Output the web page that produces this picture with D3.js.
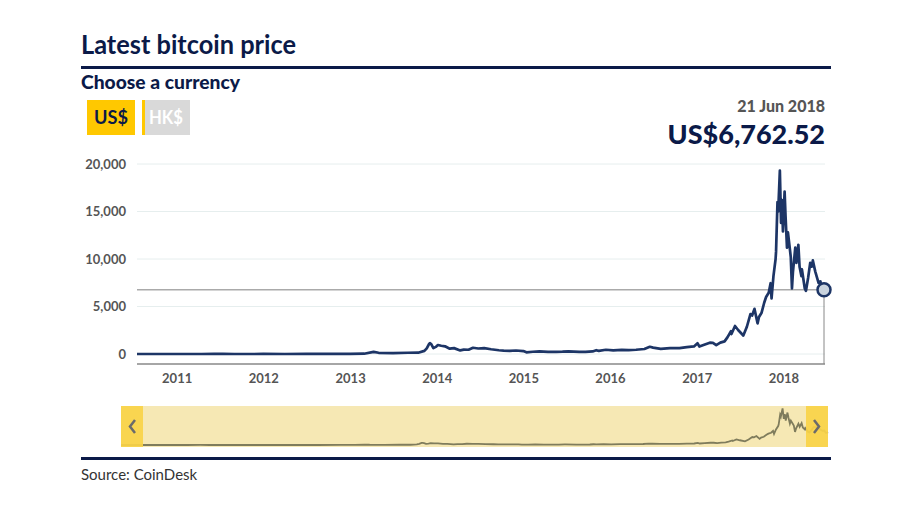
<!DOCTYPE html>
<html>
<head>
<meta charset="utf-8">
<script src="https://cdn.jsdelivr.net/npm/d3@7"></script>
<style>
  body { margin: 0; background: #fff; }
  text { font-family: Lato, "Open Sans", sans-serif; }
</style>
</head>
<body>
<div id="chart"></div>
<script>
// price data (CoinDesk BPI, US$)
dates = [
  '2010-07-18','2010-09-01','2010-11-01','2011-01-01','2011-03-01','2011-04-15','2011-06-08','2011-07-15','2011-09-01','2011-11-01',
  '2012-01-01','2012-04-01','2012-07-01','2012-10-01','2013-01-01','2013-03-01','2013-04-10','2013-05-01','2013-07-01','2013-09-01',
  '2013-10-15','2013-11-10','2013-11-20','2013-11-30','2013-12-04','2013-12-10','2013-12-18','2013-12-28','2014-01-06','2014-01-20',
  '2014-02-05','2014-02-25','2014-03-15','2014-04-10','2014-04-25','2014-05-15','2014-06-03','2014-06-25','2014-07-20','2014-08-18',
  '2014-09-20','2014-10-10','2014-11-05','2014-12-01','2015-01-01','2015-01-14','2015-02-10','2015-03-10','2015-04-15','2015-05-20',
  '2015-06-15','2015-07-10','2015-08-25','2015-09-20','2015-10-20','2015-11-04','2015-11-15','2015-12-15','2016-01-15','2016-02-20',
  '2016-03-20','2016-04-20','2016-05-25','2016-06-17','2016-07-01','2016-08-02','2016-09-10','2016-10-20','2016-11-20','2016-12-20',
  '2017-01-04','2017-01-12','2017-02-01','2017-02-25','2017-03-10','2017-03-24','2017-04-10','2017-04-28','2017-05-10','2017-05-25',
  '2017-05-27','2017-06-11','2017-06-25','2017-07-16','2017-07-31','2017-08-15','2017-08-22','2017-09-01','2017-09-14','2017-09-20',
  '2017-10-01','2017-10-12','2017-10-20','2017-10-31','2017-11-08','2017-11-12','2017-11-20','2017-11-29','2017-12-01','2017-12-07',
  '2017-12-10','2017-12-17','2017-12-22','2017-12-26','2017-12-30','2018-01-06','2018-01-10','2018-01-16','2018-01-20','2018-01-27',
  '2018-02-01','2018-02-06','2018-02-10','2018-02-20','2018-02-25','2018-03-05','2018-03-10','2018-03-18','2018-03-20','2018-04-01',
  '2018-04-06','2018-04-15','2018-04-24','2018-05-01','2018-05-05','2018-05-15','2018-05-22','2018-05-29','2018-06-06','2018-06-12',
  '2018-06-17','2018-06-21'
];
prices = [
  0.09, 0.06, 0.28, 0.4, 0.9, 1.2, 29, 13.4, 5.1, 3.0,
  5.5, 5.0, 9.3, 11.2, 13.5, 33, 230, 129, 90, 133,
  140, 330, 600, 1080, 1150, 1000, 620, 750, 950, 870,
  810, 560, 620, 380, 460, 450, 660, 580, 620, 500,
  400, 360, 330, 370, 315, 175, 240, 280, 225, 235,
  250, 285, 225, 230, 275, 400, 330, 450, 380, 430,
  415, 450, 530, 760, 670, 550, 620, 630, 735, 800,
  1130, 780, 970, 1190, 1180, 940, 1200, 1330, 1750, 2400,
  2100, 2950, 2500, 1950, 2870, 4200, 4050, 4750, 3230, 3900,
  4350, 5400, 6000, 6450, 7450, 5860, 8200, 10000, 10800, 16000,
  15000, 19300, 13800, 16200, 12900, 17100, 14500, 11200, 12800, 11300,
  10200, 6900, 8600, 11200, 9600, 11500, 9200, 8200, 8900, 6900,
  6650, 8000, 9600, 9200, 9850, 8700, 8100, 7500, 7650, 6400,
  6500, 6762.52
];
yTicks = [0, 5000, 10000, 15000, 20000];
xTicks = [2011, 2012, 2013, 2014, 2015, 2016, 2017, 2018];
currencies = ['US$', 'HK$'];

width = 907;
height = 516;
navy = '#0b1a48';
lineColor = '#1d3566';

parse = d3.timeParse('%Y-%m-%d');
data = dates.map((d, i) => ({ date: parse(d), price: prices[i] }));
last = data[data.length - 1];

svg = d3.select('#chart').append('svg')
  .attr('width', width)
  .attr('height', height);

// header ---------
svg.append('text')
  .attr('x', 81).attr('y', 54)
  .attr('font-family', 'Roboto').attr('font-weight', 700).attr('font-size', 26)
  .attr('textLength', 215).attr('lengthAdjust', 'spacingAndGlyphs')
  .attr('fill', navy)
  .text('Latest bitcoin price');

svg.append('rect').attr('x', 81).attr('y', 66).attr('width', 750).attr('height', 3).attr('fill', navy);

svg.append('text')
  .attr('x', 81).attr('y', 89)
  .attr('font-weight', 900).attr('font-size', 18)
  .attr('textLength', 159).attr('lengthAdjust', 'spacingAndGlyphs')
  .attr('fill', navy)
  .text('Choose a currency');

// currency buttons
btn = svg.selectAll('.btn').data(currencies).enter().append('g')
  .attr('transform', (d, i) => `translate(${87 + i * 55},100)`);
btn.append('rect').attr('width', 48).attr('height', 35)
  .attr('fill', (d, i) => (i == 0 ? '#ffc800' : '#d9d9d9'));
btn.filter((d, i) => i == 1).append('rect').attr('width', 3).attr('height', 35).attr('fill', '#ffc800');
btn.append('text')
  .attr('x', 24).attr('y', 24).attr('text-anchor', 'middle')
  .attr('font-family', 'Roboto').attr('font-weight', 700).attr('font-size', 18)
  .attr('textLength', 34).attr('lengthAdjust', 'spacingAndGlyphs')
  .attr('fill', (d, i) => (i == 0 ? navy : '#fff'))
  .text((d) => d);

svg.append('text')
  .attr('x', 825).attr('y', 112).attr('text-anchor', 'end')
  .attr('font-weight', 900).attr('font-size', 16).attr('fill', '#555')
  .text(d3.timeFormat('%d %b %Y')(last.date));

svg.append('text')
  .attr('x', 825).attr('y', 144).attr('text-anchor', 'end')
  .attr('font-weight', 900).attr('font-size', 27).attr('fill', navy)
  .text('US$' + d3.format(',.2f')(last.price));

// main chart -------
x = d3.scaleTime()
  .domain(d3.extent(data, (d) => d.date))
  .range([137, 824]);

y = d3.scaleLinear()
  .domain([-1050, 20000])
  .range([364, 164]);

// grid lines
svg.append('g')
  .selectAll('line').data(yTicks).enter().append('line')
  .attr('x1', 137).attr('x2', 825)
  .attr('y1', (d) => y(d)).attr('y2', (d) => y(d))
  .attr('stroke', '#e6eeee').attr('stroke-width', 1);

// y axis labels
yAxis = svg.append('g')
  .attr('transform', 'translate(130,0)')
  .call(d3.axisLeft(y).tickValues(yTicks).tickSize(0).tickPadding(4).tickFormat(d3.format(',')));
yAxis.select('.domain').remove();
yAxis.selectAll('text')
  .attr('font-family', 'Roboto').attr('font-weight', 700).attr('font-size', 13).attr('fill', '#555');

// x axis
xAxis = svg.append('g')
  .attr('transform', 'translate(0,364)')
  .call(d3.axisBottom(x).tickValues(xTicks.map((yr) => new Date(yr, 0, 1))).tickSize(0).tickPadding(10).tickFormat(d3.timeFormat('%Y')));
xAxis.select('.domain').attr('d', 'M137,0H825').attr('stroke', '#888').attr('stroke-width', 1.5);
xAxis.selectAll('text')
  .attr('font-family', 'Roboto').attr('font-weight', 700).attr('font-size', 13).attr('fill', '#555');

// latest value cross-hair
svg.append('line')
  .attr('x1', 137).attr('x2', x(last.date))
  .attr('y1', y(last.price)).attr('y2', y(last.price))
  .attr('stroke', '#aaa').attr('stroke-width', 1.5);
svg.append('line')
  .attr('x1', x(last.date)).attr('x2', x(last.date))
  .attr('y1', y(last.price)).attr('y2', 364)
  .attr('stroke', '#888').attr('stroke-width', 1);

line = d3.line()
  .x((d) => x(d.date))
  .y((d) => y(d.price));

svg.append('path')
  .datum(data)
  .attr('d', line)
  .attr('fill', 'none')
  .attr('stroke', lineColor)
  .attr('stroke-width', 2.7)
  .attr('stroke-linejoin', 'round');

svg.append('circle')
  .attr('cx', x(last.date)).attr('cy', y(last.price)).attr('r', 6.5)
  .attr('fill', '#c9d3de').attr('stroke', lineColor).attr('stroke-width', 2.5);

// navigator -------
nx = d3.scaleTime().domain(x.domain()).range([121, 828]);
ny = d3.scaleLinear().domain([0, 19500]).range([445, 408]);

svg.append('rect').attr('x', 121).attr('y', 406).attr('width', 707).attr('height', 41).attr('fill', '#f6e8b4');

svg.append('path')
  .datum(data)
  .attr('d', d3.line().x((d) => nx(d.date)).y((d) => ny(d.price)))
  .attr('fill', 'none').attr('stroke', '#7f7c5c').attr('stroke-width', 1.8);

handles = svg.selectAll('.handle').data([121, 806]).enter().append('g')
  .attr('transform', (d) => `translate(${d},406)`);
handles.append('rect').attr('width', 22).attr('height', 41).attr('fill', '#f8d248').attr('opacity', 0.92);
handles.append('path')
  .attr('d', (d, i) => (i == 0 ? 'M14,14 L9,20.5 L14,27' : 'M8,14 L13,20.5 L8,27'))
  .attr('fill', 'none').attr('stroke', '#6b6b6b').attr('stroke-width', 2.5);

// footer
svg.append('rect').attr('x', 81).attr('y', 457).attr('width', 750).attr('height', 3).attr('fill', navy);
svg.append('text')
  .attr('x', 81).attr('y', 480)
  .attr('font-size', 15).attr('fill', '#333')
  .text('Source: CoinDesk');
</script>
</body>
</html>
